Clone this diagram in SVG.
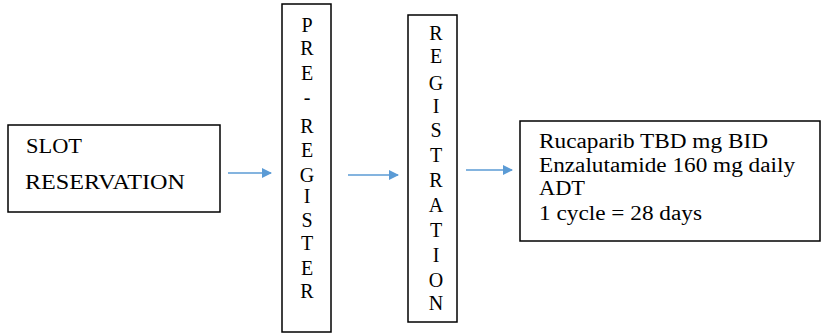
<svg xmlns="http://www.w3.org/2000/svg" width="822" height="333" viewBox="0 0 822 333">
<style>
.box{fill:#fff;stroke:#000;stroke-width:1.5}
.c{stroke:#5B9BD5;stroke-width:1.5;fill:none}
</style>
<defs>
<marker id="ah" markerWidth="10" markerHeight="10" refX="9" refY="5" orient="auto" markerUnits="userSpaceOnUse">
<path d="M0,0 L10,5 L0,10 Z" fill="#5B9BD5"/>
</marker>
</defs>
<rect width="822" height="333" fill="#fff"/>
<g id="connectors">
<line class="c" x1="228" y1="173" x2="271" y2="173" marker-end="url(#ah)"/>
<line class="c" x1="348" y1="175" x2="398" y2="175" marker-end="url(#ah)"/>
<line class="c" x1="466" y1="170" x2="512" y2="170" marker-end="url(#ah)"/>
</g>
<g id="slot" font-family="Liberation Serif, DejaVu Serif, serif" font-size="20" fill="#000">
<rect class="box" x="8" y="125" width="212" height="87"/>
<text x="26" y="153" textLength="56" lengthAdjust="spacingAndGlyphs">SLOT</text>
<text x="25" y="189" textLength="160" lengthAdjust="spacingAndGlyphs">RESERVATION</text>
</g>
<g id="preregister" font-family="Liberation Serif, DejaVu Serif, serif" font-size="20" fill="#000" text-anchor="middle">
<rect class="box" x="282" y="4" width="49" height="328"/>
<text x="307" y="32">P</text>
<text x="307" y="55">R</text>
<text x="307" y="80">E</text>
<text x="307" y="104">-</text>
<text x="307" y="133">R</text>
<text x="307" y="157">E</text>
<text x="307" y="182">G</text>
<text x="307" y="203">I</text>
<text x="307" y="227">S</text>
<text x="307" y="250">T</text>
<text x="307" y="275">E</text>
<text x="307" y="298">R</text>
</g>
<g id="registration" font-family="Liberation Serif, DejaVu Serif, serif" font-size="20" fill="#000" text-anchor="middle">
<rect class="box" x="408" y="15" width="49" height="307"/>
<text x="436" y="40">R</text>
<text x="436" y="63">E</text>
<text x="436" y="90">G</text>
<text x="436" y="113">I</text>
<text x="436" y="137">S</text>
<text x="436" y="162">T</text>
<text x="436" y="187">R</text>
<text x="436" y="212">A</text>
<text x="436" y="237">T</text>
<text x="436" y="262">I</text>
<text x="436" y="287">O</text>
<text x="436" y="310">N</text>
</g>
<g id="treatment" font-family="Liberation Serif, DejaVu Serif, serif" font-size="20" fill="#000">
<rect class="box" x="520" y="121" width="300" height="120"/>
<text x="539" y="148" textLength="229" lengthAdjust="spacingAndGlyphs">Rucaparib TBD mg BID</text>
<text x="539" y="172" textLength="256" lengthAdjust="spacingAndGlyphs">Enzalutamide 160 mg daily</text>
<text x="539" y="195" textLength="46" lengthAdjust="spacingAndGlyphs">ADT</text>
<text x="539" y="220" textLength="163" lengthAdjust="spacingAndGlyphs">1 cycle = 28 days</text>
</g>
</svg>
